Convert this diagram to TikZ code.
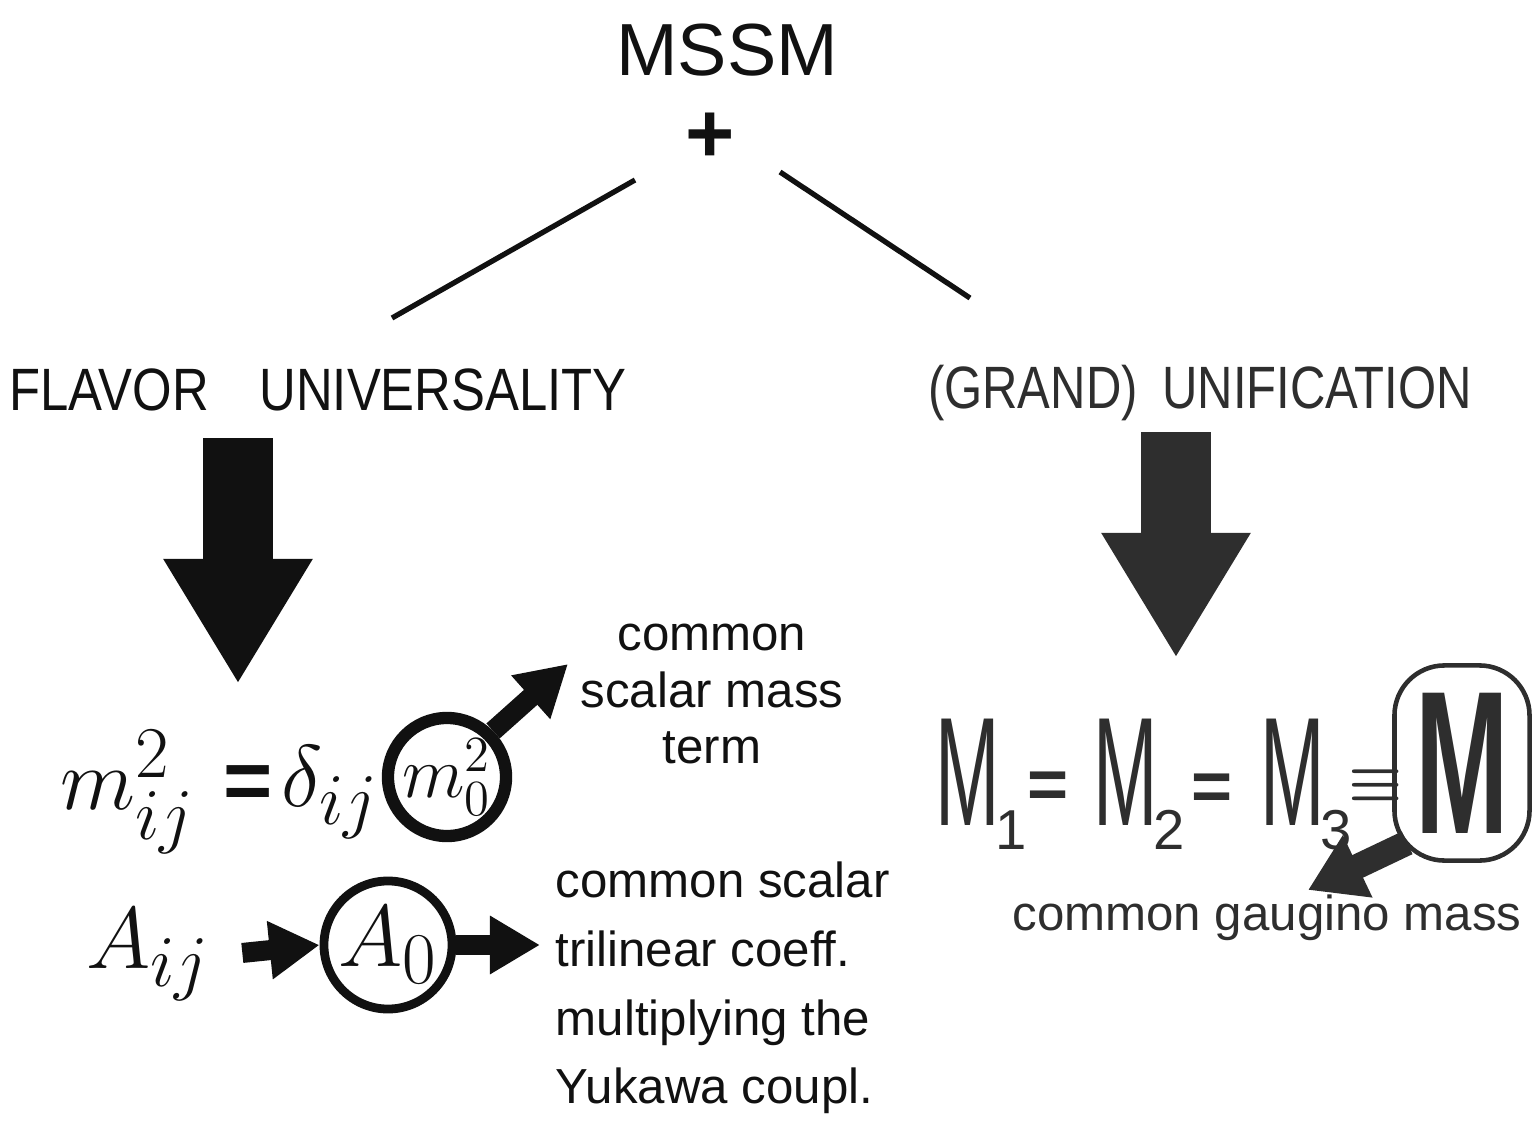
\documentclass[tikz,border=0pt]{standalone}
\usepackage{amsmath}
\usepackage{fontspec}
\setmainfont{Liberation Sans}
\usetikzlibrary{arrows.meta}
\definecolor{ink}{HTML}{111111}
\definecolor{pencil}{HTML}{2E2E2E}
\newcommand{\tallM}{\scalebox{0.5}[1]{\fontsize{44}{48}\selectfont M}}
\newcommand{\msub}[1]{\kern-0.5mm\raisebox{-2.4mm}{\fontsize{16}{18}\selectfont #1}}
\newcommand{\heq}{\fontsize{24}{28}\selectfont\textbf{=}}
\newcommand{\meq}{\fontsize{20}{24}\selectfont\textbf{=}}
\tikzset{
  bigarrow/.style={line width=7mm, -{Triangle[width=14mm,length=12.5mm]}},
  smallarrow/.style={line width=2mm, -{Triangle[width=5.5mm,length=5mm]}},
  title/.style={font=\fontsize{17}{20}\selectfont},
  note/.style={font=\fontsize{14}{16}\selectfont, align=center},
  eqn/.style={inner sep=0pt, anchor=base west},
}
\begin{document}
\begin{tikzpicture}[x=0.01cm,y=-0.01cm,ink]
     \useasboundingbox (0,0) rectangle (1532,1142);
     % top of the tree
     \node (mssm) at (727,50) {\fontsize{21}{24}\selectfont MSSM};
     \node (plus) at (710,138) {\fontsize{24}{28}\selectfont\bfseries +};
     \coordinate (lt) at (635,180);
     \coordinate (lb) at (392,318);
     \coordinate (rt) at (780,172);
     \coordinate (rb) at (970,298);
     \draw [line width=1.5pt] (lt) -- (lb);
     \draw [line width=1.5pt] (rt) -- (rb);
     \node [title] (flavor) at (318,390) {\scalebox{0.85}[1]{FLAVOR\quad UNIVERSALITY}};
     \node [title,pencil] (unif) at (1200,393) {\scalebox{0.82}[1]{(GRAND)\enspace UNIFICATION}};
     % flavor universality branch
     \coordinate (fa) at (238,438);
     \coordinate (fb) at (238,684);
     \draw [bigarrow] (fa) -- (fb);
     \node [inner sep=0pt] (mij) at (128,792) {\fontsize{32}{36}\selectfont $m^2_{ij}$};
     \node [inner sep=0pt] (eqa) at (248,788) {\heq};
     \node [inner sep=0pt] (dij) at (330,792) {\fontsize{32}{36}\selectfont $\delta_{ij}$};
     \node [circle,draw,line width=3.5pt,minimum size=1.18cm,inner sep=0pt] (mzero) at (447,777)
        {\fontsize{20}{24}\selectfont $m_0^2$};
     \node [note] (scalar) at (712,694) {common\\scalar mass\\term};
     \coordinate (stip) at (568,664);
     \draw [smallarrow] (mzero.north east) -- (stip);
     \node (aij) at (148,955) {\fontsize{32}{36}\selectfont $A_{ij}$};
     \node [circle,draw,line width=2.5pt,minimum size=1.28cm,inner sep=0pt] (azero) at (388,945)
        {\fontsize{28}{32}\selectfont $A_0$};
     \node [note,anchor=west,align=left,inner sep=0pt,font=\fontsize{14}{19.5}\selectfont] (trilin) at (555,988)
        {common scalar\\trilinear coeff.\\multiplying the\\Yukawa coupl.};
     \draw [smallarrow,shorten <=2mm] (aij.east) -- (azero.west);
     \draw [smallarrow,shorten >=1.5mm] (azero.east) -- (trilin.west |- azero.east);
     % unification branch
     \coordinate (ua) at (1176,432);
     \coordinate (ub) at (1176,658);
     \draw [bigarrow,pencil] (ua) -- (ub);
     \begin{scope}[pencil]
     \node [eqn] (mone) at (935,825) {\tallM\msub{1}};
     \node [inner sep=0pt] (eqb) at (1048,790) {\meq};
     \node [eqn] (mtwo) at (1093,825) {\tallM\msub{2}};
     \node [inner sep=0pt] (eqc) at (1212,792) {\meq};
     \node [eqn] (mthree) at (1260,825) {\tallM\msub{3}};
     \node [inner sep=0pt] (eqd) at (1376,785) {\fontsize{17}{20}\selectfont $\boldsymbol{\equiv}$};
     \node [draw,line width=1.3pt,rounded corners=5mm,minimum width=1.35cm,minimum height=1.95cm] (mbig) at (1462,763)
        {\scalebox{0.55}[1]{\fontsize{58}{62}\selectfont\bfseries M}};
     \node [note,font=\fontsize{14}{16}\selectfont] (gaugino) at (1267,918) {common gaugino mass};
     \coordinate (gtip) at (1308,890);
     \draw [line width=2.5mm, -{Triangle[width=6.5mm,length=5.5mm]}] ([shift={(15,-20)}]mbig.south west) -- (gtip);
     \end{scope}
\end{tikzpicture}
\end{document}
